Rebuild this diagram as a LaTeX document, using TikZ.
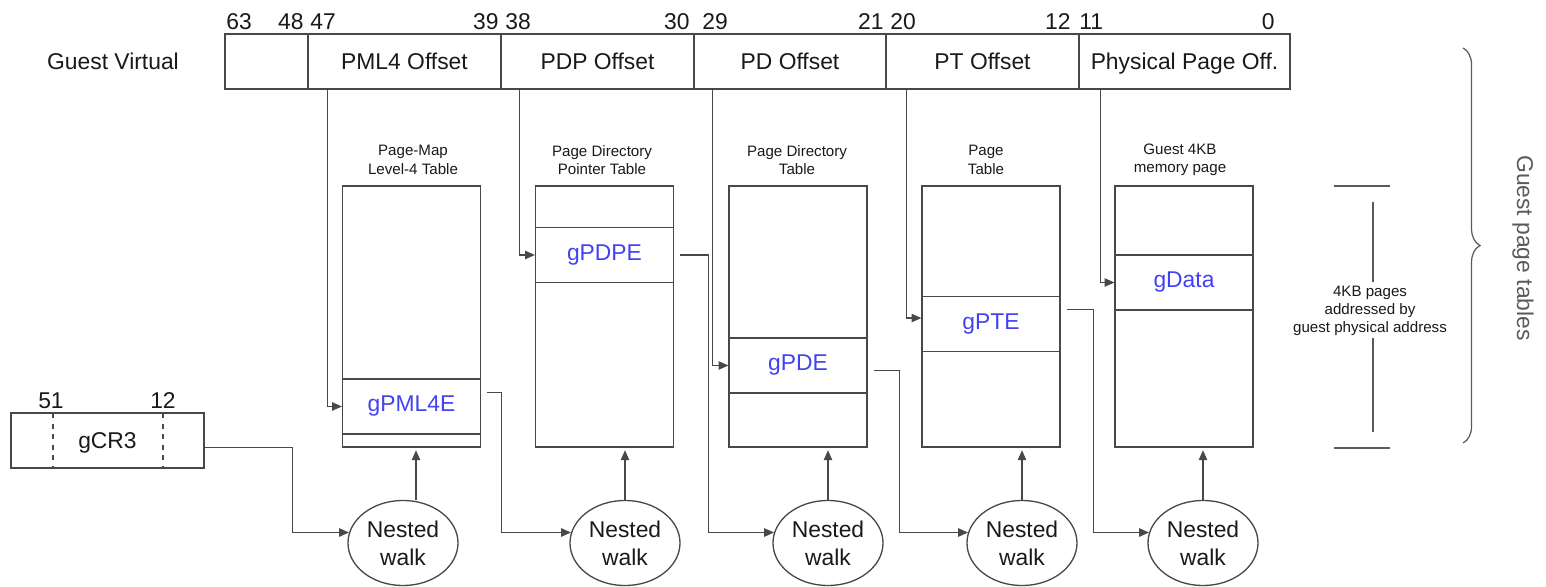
\documentclass[tikz,border=0pt]{standalone}
\usepackage{fontspec}
\setmainfont{Liberation Sans}
\usetikzlibrary{arrows.meta,shapes.geometric,decorations.pathreplacing}
\definecolor{entryblue}{RGB}{66,66,240}
\definecolor{linegray}{RGB}{72,72,72}
\definecolor{bracegray}{RGB}{90,90,90}

\begin{document}
\begin{tikzpicture}[x=0.2cm,y=0.2cm]
\tikzstyle{every node}+=[inner sep=0pt]
\tikzstyle{bigtxt}=[font=\fontsize{13}{15}\selectfont, text=black!90]
\tikzstyle{smalltxt}=[font=\fontsize{8.6}{10.4}\selectfont, text=black!90, align=center]
\tikzstyle{field}=[bigtxt, draw=linegray, line width=0.75pt, minimum height=31.3pt, text height=10pt, text depth=0.7pt]
\tikzstyle{tbl}=[draw=linegray, line width=0.75pt, minimum width=78.5pt, minimum height=148.5pt]
\tikzstyle{entry}=[draw=linegray, line width=0.75pt, minimum width=78.5pt, minimum height=31.3pt, font=\fontsize{13}{15}\selectfont, text=entryblue]
\tikzstyle{walk}=[ellipse, draw=linegray, line width=0.75pt, minimum width=62.6pt, minimum height=48.4pt, align=center, font=\fontsize{13}{16}\selectfont, text=black!90]
\tikzstyle{conn}=[linegray, line width=0.6pt, -{Triangle[length=5.6pt,width=4.8pt]}]
\useasboundingbox (0,0) rectangle (154.6,-58.7);
% guest virtual address
\draw (11.3,-6.1) node [bigtxt] {Guest Virtual};
\node [field, minimum width=47.2pt] (resv) at (26.65,-6.15) {};
\node [field, minimum width=109.8pt] (pml4off) at (40.45,-6.15) {PML4 Offset};
\node [field, minimum width=109.8pt] (pdpoff) at (59.75,-6.15) {PDP Offset};
\node [field, minimum width=109.3pt] (pdoff) at (79.0,-6.15) {PD Offset};
\node [field, minimum width=109.8pt] (ptoff) at (98.25,-6.15) {PT Offset};
\node [field, minimum width=120.1pt] (pgoff) at (118.45,-6.15) {Physical Page Off.};
\draw (22.6,-3.0) node [bigtxt, anchor=base west] {63};
\draw (30.4,-3.0) node [bigtxt, anchor=base east] {48};
\draw (31.0,-3.0) node [bigtxt, anchor=base west] {47};
\draw (49.9,-3.0) node [bigtxt, anchor=base east] {39};
\draw (50.5,-3.0) node [bigtxt, anchor=base west] {38};
\draw (69.0,-3.0) node [bigtxt, anchor=base east] {30};
\draw (70.2,-3.0) node [bigtxt, anchor=base west] {29};
\draw (88.4,-3.0) node [bigtxt, anchor=base east] {21};
\draw (89.0,-3.0) node [bigtxt, anchor=base west] {20};
\draw (107.1,-3.0) node [bigtxt, anchor=base east] {12};
\draw (107.9,-3.0) node [bigtxt, anchor=base west] {11};
\draw (127.5,-3.0) node [bigtxt, anchor=base east] {0};
% guest page tables
\node [tbl] (pml4) at (41.15,-31.65) {};
\node [tbl] (pdpt) at (60.45,-31.65) {};
\node [tbl] (pdt) at (79.8,-31.65) {};
\node [tbl] (ptt) at (99.1,-31.65) {};
\node [tbl] (page) at (118.4,-31.65) {};
\draw (41.3,-16.0) node [smalltxt] {Page-Map\\Level-4 Table};
\draw (60.2,-16.0) node [smalltxt] {Page Directory\\Pointer Table};
\draw (79.7,-16.0) node [smalltxt] {Page Directory\\Table};
\draw (98.6,-16.0) node [smalltxt] {Page\\Table};
\draw (118.0,-16.0) node [smalltxt] {Guest 4KB\\memory page};
\node [entry] (pml4e) at (41.15,-40.65) {gPML4E};
\node [entry] (pdpe) at (60.45,-25.5) {gPDPE};
\node [entry] (pde) at (79.8,-36.55) {gPDE};
\node [entry] (pte) at (99.1,-32.4) {gPTE};
\node [entry] (gdata) at (118.4,-28.25) {gData};
\draw [conn] ([xshift=11.4pt]pml4off.south west) |- (pml4e.west);
\draw [conn] ([xshift=10.8pt]pdpoff.south west) |- (pdpe.west);
\draw [conn] ([xshift=10.8pt]pdoff.south west) |- (pde.west);
\draw [conn] ([xshift=11.9pt]ptoff.south west) |- ([yshift=3.4pt]pte.west);
\draw [conn] ([xshift=12.5pt]pgoff.south west) |- (gdata.west);
% gCR3
\node [field, minimum width=109.8pt] (gcr3) at (10.75,-44.05) {gCR3};
\draw [linegray, dashed, line width=0.6pt] (5.3,-41.3) -- (5.3,-46.8);
\draw [linegray, dashed, line width=0.6pt] (16.3,-41.3) -- (16.3,-46.8);
\draw (5.1,-40.8) node [bigtxt, anchor=base] {51};
\draw (16.3,-40.8) node [bigtxt, anchor=base] {12};
% nested walks
\node [walk] (nw1) at (40.3,-54.3) {Nested\\walk};
\node [walk] (nw2) at (62.5,-54.3) {Nested\\walk};
\node [walk] (nw3) at (82.8,-54.3) {Nested\\walk};
\node [walk] (nw4) at (102.2,-54.3) {Nested\\walk};
\node [walk] (nw5) at (120.3,-54.3) {Nested\\walk};
\draw [conn] ([yshift=-4pt]gcr3.east) -- ++(8.8,0) |- (nw1.169);
\draw [conn] ([xshift=3.4pt,yshift=7.7pt]pml4e.east) -- ++(1.4,0) |- (nw2.169);
\draw [conn] ([xshift=3.4pt]pdpe.east) -- ++(2.8,0) |- (nw3.169);
\draw [conn] ([xshift=3.4pt,yshift=-2.6pt]pde.east) -- ++(2.6,0) |- (nw4.169);
\draw [conn] ([xshift=3.4pt,yshift=8pt]pte.east) -- ++(2.7,0) |- (nw5.169);
\draw [conn, shorten >=1.5pt] ([xshift=7.4pt]nw1.north) -- ([xshift=7.4pt]nw1.north |- pml4.south);
\draw [conn, shorten >=1.5pt] (nw2.north) -- (nw2.north |- pdpt.south);
\draw [conn, shorten >=1.5pt] (nw3.north) -- (nw3.north |- pdt.south);
\draw [conn, shorten >=1.5pt] (nw4.north) -- (nw4.north |- ptt.south);
\draw [conn, shorten >=1.5pt] (nw5.north) -- (nw5.north |- page.south);
% page span and brace
\draw [bracegray, line width=0.6pt] (133.4,-18.6) -- (139.0,-18.6);
\draw [bracegray, line width=0.6pt] (133.4,-44.8) -- (139.0,-44.8);
\node [smalltxt] (span) at (137.0,-31.1) {4KB pages\\addressed by\\guest physical address};
\draw [bracegray, line width=0.6pt] (137.3,-20.2) -- (137.3,-28.2);
\draw [bracegray, line width=0.6pt] (137.3,-33.8) -- (137.3,-43.2);
\draw [bracegray, line width=0.7pt, decorate, decoration={brace, amplitude=9.7pt}] (146.3,-4.8) -- (146.3,-44.3);
\node [rotate=-90, font=\fontsize{13}{15}\selectfont, text=bracegray] (gpt) at (152.3,-24.8) {Guest page tables};
\end{tikzpicture}
\end{document}
